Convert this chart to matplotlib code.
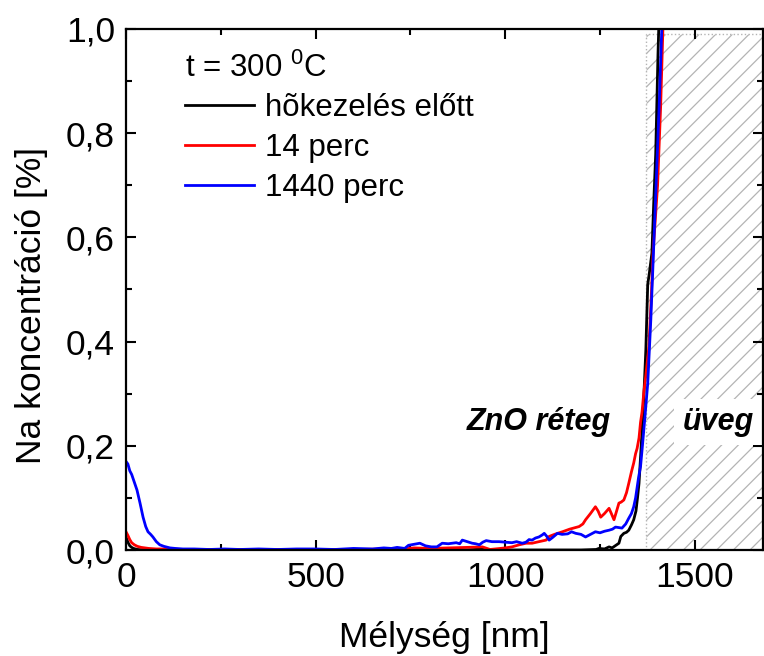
import matplotlib
matplotlib.use("Agg")
import matplotlib.pyplot as plt
from matplotlib.patches import Rectangle
from matplotlib.ticker import MultipleLocator, FixedLocator, FixedFormatter

plt.rcParams['font.family'] = ['Liberation Sans', 'DejaVu Sans']
plt.rcParams['mathtext.fontset'] = 'custom'
plt.rcParams['mathtext.rm'] = 'Liberation Sans'
plt.rcParams['mathtext.it'] = 'Liberation Sans:italic'
plt.rcParams['hatch.linewidth'] = 0.9

# Na depth profiles (depth in nm, concentration in %)
depth_before = [0, 5, 10, 15, 20, 30, 50, 100, 200, 300, 400, 500, 600, 700, 800, 900, 940,
                960, 1000, 1100, 1200, 1240, 1247, 1262, 1274, 1282, 1290, 1300, 1305, 1313,
                1320, 1326, 1333, 1339, 1345, 1349, 1353, 1358, 1362, 1366, 1371, 1374, 1376,
                1380, 1387, 1392, 1397, 1403, 1405, 1410]
conc_before = [0.025, 0.015, 0.008, 0.005, 0.003, 0.001, 0.0, 0.0, 0.0, 0.0, 0.0, 0.0, 0.0,
               0.0, 0.0, 0.0, 0.002, 0.0, 0.0, 0.0, 0.0, 0.001, 0.003, 0.002, 0.006, 0.004,
               0.008, 0.013, 0.026, 0.032, 0.034, 0.038, 0.048, 0.058, 0.075, 0.10, 0.128,
               0.19, 0.24, 0.30, 0.384, 0.46, 0.51, 0.53, 0.57, 0.67, 0.76, 0.95, 1.0, 1.08]

depth_14 = [0, 5, 10, 15, 22, 30, 40, 50, 60, 80, 100, 150, 200, 300, 400, 500, 600, 700,
            730, 760, 800, 850, 900, 940, 960, 1000, 1018, 1037, 1055, 1071, 1089, 1108,
            1116, 1130, 1151, 1170, 1195, 1205, 1212, 1225, 1238, 1245, 1252, 1262, 1274,
            1280, 1287, 1294, 1300, 1306, 1313, 1320, 1326, 1333, 1339, 1344, 1348, 1353,
            1357, 1361, 1366, 1371, 1379, 1385, 1390, 1402, 1410, 1416, 1422]
conc_14 = [0.035, 0.028, 0.02, 0.014, 0.01, 0.007, 0.005, 0.004, 0.003, 0.002, 0.002, 0.001,
           0.001, 0.001, 0.001, 0.001, 0.001, 0.002, 0.002, 0.004, 0.003, 0.004, 0.005,
           0.006, 0.001, 0.004, 0.006, 0.010, 0.013, 0.013, 0.016, 0.019, 0.026, 0.030,
           0.035, 0.040, 0.045, 0.050, 0.058, 0.070, 0.083, 0.075, 0.063, 0.070, 0.080,
           0.070, 0.058, 0.075, 0.090, 0.092, 0.096, 0.110, 0.128, 0.150, 0.167, 0.185,
           0.195, 0.215, 0.245, 0.265, 0.305, 0.335, 0.39, 0.48, 0.57, 0.70, 0.85, 1.0, 1.05]

depth_1440 = [0, 5, 10, 15, 22, 29, 37, 45, 52, 58, 65, 71, 80, 89, 100, 116, 130, 150, 180,
              220, 260, 300, 350, 400, 450, 500, 550, 600, 650, 680, 700, 715, 725, 735, 745,
              760, 775, 790, 805, 820, 834, 850, 871, 880, 887, 900, 913, 922, 932, 941, 950,
              965, 984, 1000, 1018, 1030, 1045, 1055, 1063, 1071, 1080, 1089, 1098, 1103,
              1110, 1116, 1125, 1138, 1150, 1165, 1175, 1186, 1200, 1212, 1225, 1238, 1250,
              1262, 1274, 1283, 1291, 1300, 1308, 1318, 1326, 1333, 1339, 1344, 1348, 1352,
              1357, 1362, 1368, 1376, 1384, 1390, 1398, 1406, 1413, 1420]
conc_1440 = [0.17, 0.165, 0.152, 0.145, 0.13, 0.115, 0.09, 0.063, 0.045, 0.035, 0.03, 0.025,
             0.016, 0.01, 0.007, 0.004, 0.003, 0.002, 0.002, 0.001, 0.002, 0.001, 0.002,
             0.001, 0.002, 0.002, 0.001, 0.003, 0.002, 0.004, 0.003, 0.005, 0.004, 0.003,
             0.009, 0.011, 0.013, 0.008, 0.006, 0.006, 0.013, 0.012, 0.014, 0.012, 0.019,
             0.016, 0.013, 0.012, 0.010, 0.015, 0.018, 0.016, 0.016, 0.015, 0.014, 0.016,
             0.013, 0.015, 0.020, 0.019, 0.023, 0.025, 0.029, 0.032, 0.026, 0.019, 0.024,
             0.032, 0.030, 0.031, 0.035, 0.032, 0.030, 0.025, 0.030, 0.035, 0.033, 0.036,
             0.038, 0.040, 0.044, 0.043, 0.042, 0.050, 0.061, 0.070, 0.083, 0.100, 0.120,
             0.140, 0.160, 0.200, 0.250, 0.32, 0.44, 0.55, 0.70, 0.85, 1.0, 1.05]

series_labels = ['hõkezelés előtt', '14 perc', '1440 perc']
series_colors = ['#000000', '#ff0000', '#0000ff']

x_ticks = [0, 500, 1000, 1500]
x_tick_labels = ['0', '500', '1000', '1500']
y_ticks = [0.0, 0.2, 0.4, 0.6, 0.8, 1.0]
y_tick_labels = ['0,0', '0,2', '0,4', '0,6', '0,8', '1,0']

glass_start = 1371   # ZnO / glass interface, nm
glass_top = 0.99
x_max = 1680

fig = plt.figure(figsize=(7.64, 6.56), dpi=100)
ax = fig.add_axes([126 / 764, 106 / 656, 637 / 764, 521 / 656])

# hatched glass substrate region
glass = Rectangle((glass_start, 0), x_max + 200 - glass_start, glass_top,
                  facecolor='white', edgecolor='#b4b4b4', hatch='//',
                  linestyle=':', linewidth=1.0, zorder=1)
ax.add_patch(glass)

for xs, ys, lab, col in zip([depth_before, depth_14, depth_1440],
                            [conc_before, conc_14, conc_1440],
                            series_labels, series_colors):
    ax.plot(xs, ys, color=col, lw=2.0, label=lab, zorder=3)

ax.set_xlim(0, x_max)
ax.set_ylim(0, 1.0)
ax.xaxis.set_major_locator(FixedLocator(x_ticks))
ax.xaxis.set_major_formatter(FixedFormatter(x_tick_labels))
ax.yaxis.set_major_locator(FixedLocator(y_ticks))
ax.yaxis.set_major_formatter(FixedFormatter(y_tick_labels))
ax.xaxis.set_minor_locator(MultipleLocator(250))
ax.yaxis.set_minor_locator(MultipleLocator(0.1))
ax.tick_params(which='both', direction='in', top=True, right=True, width=1.5,
               labelsize=25.5, pad=8)
ax.tick_params(which='major', length=7)
ax.tick_params(which='minor', length=4)
for sp in ax.spines.values():
    sp.set_linewidth(1.6)
    sp.set_zorder(5)

ax.set_xlabel('Mélység [nm]', fontsize=25.5, labelpad=19)
ax.set_ylabel('Na koncentráció [%]', fontsize=25.5)
ax.yaxis.set_label_coords(-0.122, 0.47)

ax.text(1089, 0.246, 'ZnO réteg', fontsize=22, fontweight='bold', style='italic',
        ha='center', va='center', zorder=4)
ax.text(1561, 0.246, 'üveg', fontsize=22, fontweight='bold', style='italic',
        ha='center', va='center', zorder=4,
        bbox=dict(facecolor='white', edgecolor='none', pad=6))

leg = ax.legend(loc='upper left', bbox_to_anchor=(0.093, 0.955), frameon=False,
                fontsize=22.5, title=r't = 300 $^{0}$C', title_fontsize=22.5,
                alignment='left', handlelength=2.2, handletextpad=0.35,
                labelspacing=0.31, borderpad=0, borderaxespad=0)
for ln in leg.get_lines():
    ln.set_linewidth(2.0)

fig.savefig('out.png', dpi=100)
